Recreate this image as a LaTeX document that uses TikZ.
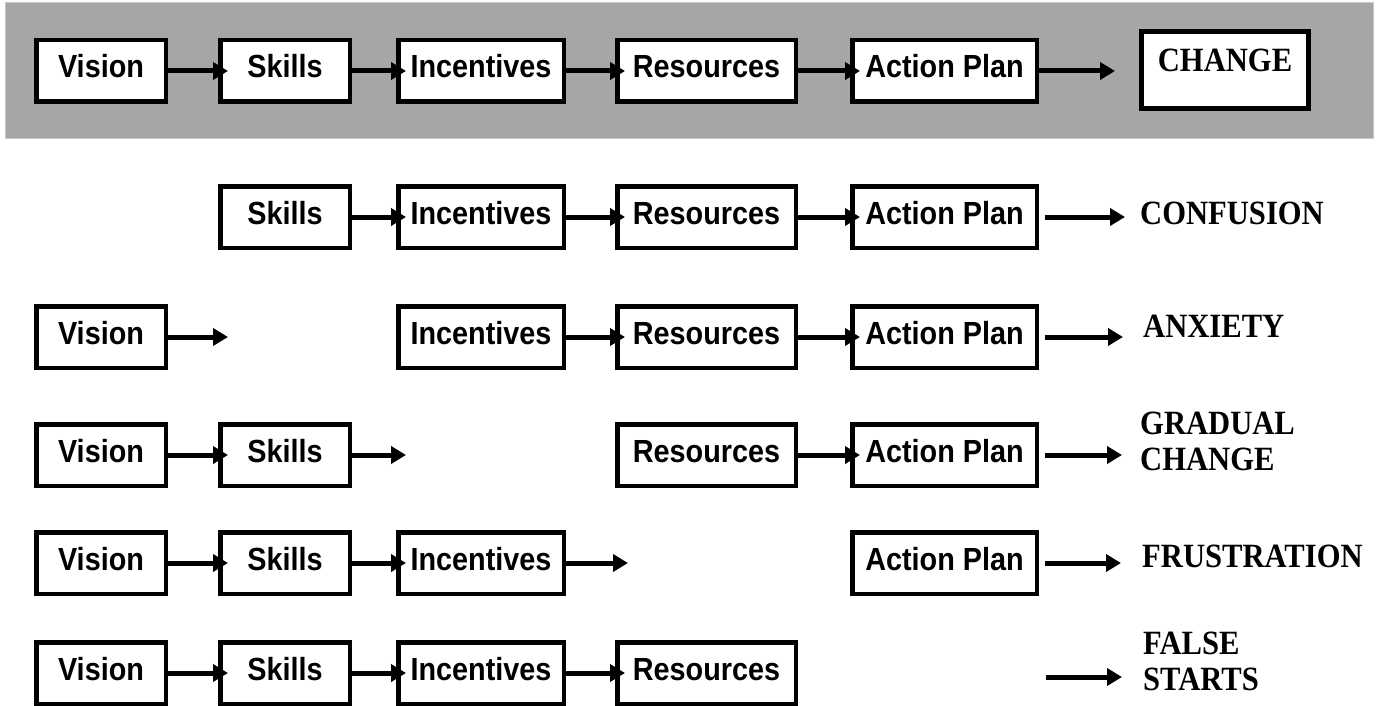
\documentclass[tikz,border=0pt]{standalone}
\usepackage{fontspec}
\setmainfont{Liberation Serif}
\newfontfamily\boxfont{Liberation Sans}[FakeStretch=0.9]
\newfontfamily\labfont{Liberation Serif}[FakeStretch=0.9]
\usetikzlibrary{arrows.meta}
\definecolor{bandgray}{RGB}{166,166,166}
\definecolor{bandedge}{RGB}{200,200,200}
\begin{document}
\begin{tikzpicture}[x=1pt,y=-1pt,
  box/.style={draw=black, line width=4.5pt, fill=white, minimum height=61.5pt, inner sep=1pt,
    font=\boxfont\bfseries\fontsize{32}{36}\selectfont, text height=23pt, text depth=9pt},
  vbox/.style={box, minimum width=129.5pt},
  sbox/.style={box, minimum width=129.5pt},
  ibox/.style={box, minimum width=165.5pt},
  rbox/.style={box, minimum width=178.5pt},
  abox/.style={box, minimum width=184.5pt},
  chbox/.style={draw=black, line width=5pt, fill=white, minimum width=167pt, minimum height=77pt, inner sep=0pt,
    font=\labfont\bfseries\fontsize{34}{36}\selectfont, text height=23pt, text depth=19pt},
  arr/.style={line width=5pt, -{Triangle[length=15pt,width=17pt]}},
  outcome/.style={font=\labfont\bfseries\fontsize{34}{36}\selectfont, inner sep=0pt, align=left}
]
\useasboundingbox (0,0) rectangle (1383,706);
% band
\fill[bandgray, draw=bandedge, line width=1pt] (5,3) rectangle (1373,138);

% Row 0
\node[vbox] (v0) at (101,71) {Vision};
\node[sbox] (s0) at (285,71) {Skills};
\node[ibox] (i0) at (481,71) {Incentives};
\node[rbox] (r0) at (706.5,71) {Resources};
\node[abox] (a0) at (944.5,71) {Action Plan};
\node[chbox] (c0) at (1225,70) {CHANGE};
\draw[arr] (v0.east) -- ([xshift=10pt]s0.west);
\draw[arr] (s0.east) -- ([xshift=10pt]i0.west);
\draw[arr] (i0.east) -- ([xshift=10pt]r0.west);
\draw[arr] (r0.east) -- ([xshift=10pt]a0.west);
\draw[arr] (a0.east) -- ([xshift=-24pt]c0.west |- a0.east);

% Row 1 : confusion
\node[sbox] (s1) at (285,217) {Skills};
\node[ibox] (i1) at (481,217) {Incentives};
\node[rbox] (r1) at (706.5,217) {Resources};
\node[abox] (a1) at (944.5,217) {Action Plan};
\node[outcome, anchor=base west] (l1) at (1140,224) {CONFUSION};
\coordinate (e1) at (1125,217);
\draw[arr] (s1.east) -- ([xshift=10pt]i1.west);
\draw[arr] (i1.east) -- ([xshift=10pt]r1.west);
\draw[arr] (r1.east) -- ([xshift=10pt]a1.west);
\draw[arr] ([xshift=6pt]a1.east) -- (e1);

% Row 2 : anxiety
\node[vbox] (v2) at (101,337) {Vision};
\coordinate (f2) at (228,337);
\node[ibox] (i2) at (481,337) {Incentives};
\node[rbox] (r2) at (706.5,337) {Resources};
\node[abox] (a2) at (944.5,337) {Action Plan};
\node[outcome, anchor=base west] (l2) at (1143,337) {ANXIETY};
\coordinate (e2) at (1123,337);
\draw[arr] (v2.east) -- (f2);
\draw[arr] (i2.east) -- ([xshift=10pt]r2.west);
\draw[arr] (r2.east) -- ([xshift=10pt]a2.west);
\draw[arr] ([xshift=6pt]a2.east) -- (e2);

% Row 3 : gradual change
\node[vbox] (v3) at (101,455) {Vision};
\node[sbox] (s3) at (285,455) {Skills};
\coordinate (f3) at (406,455);
\node[rbox] (r3) at (706.5,455) {Resources};
\node[abox] (a3) at (944.5,455) {Action Plan};
\node[outcome, anchor=north west] (l3) at (1140,412) {GRADUAL\\CHANGE};
\coordinate (e3) at (1122,455);
\draw[arr] (v3.east) -- ([xshift=10pt]s3.west);
\draw[arr] (s3.east) -- (f3);
\draw[arr] (r3.east) -- ([xshift=10pt]a3.west);
\draw[arr] ([xshift=6pt]a3.east) -- (e3);

% Row 4 : frustration
\node[vbox] (v4) at (101,563) {Vision};
\node[sbox] (s4) at (285,563) {Skills};
\node[ibox] (i4) at (481,563) {Incentives};
\coordinate (f4) at (628,563);
\node[abox] (a4) at (944.5,563) {Action Plan};
\node[outcome, anchor=base west] (l4) at (1142,567) {FRUSTRATION};
\coordinate (e4) at (1121,563);
\draw[arr] (v4.east) -- ([xshift=10pt]s4.west);
\draw[arr] (s4.east) -- ([xshift=10pt]i4.west);
\draw[arr] (i4.east) -- (f4);
\draw[arr] ([xshift=6pt]a4.east) -- (e4);

% Row 5 : false starts
\node[vbox] (v5) at (101,673) {Vision};
\node[sbox] (s5) at (285,673) {Skills};
\node[ibox] (i5) at (481,673) {Incentives};
\node[rbox] (r5) at (706.5,673) {Resources};
\node[outcome, anchor=north west] (l5) at (1143,632) {FALSE\\STARTS};
\coordinate (b5) at (1046,677);
\coordinate (e5) at (1122,677);
\draw[arr] (v5.east) -- ([xshift=10pt]s5.west);
\draw[arr] (s5.east) -- ([xshift=10pt]i5.west);
\draw[arr] (i5.east) -- ([xshift=10pt]r5.west);
\draw[arr] (b5) -- (e5);
\end{tikzpicture}
\end{document}
